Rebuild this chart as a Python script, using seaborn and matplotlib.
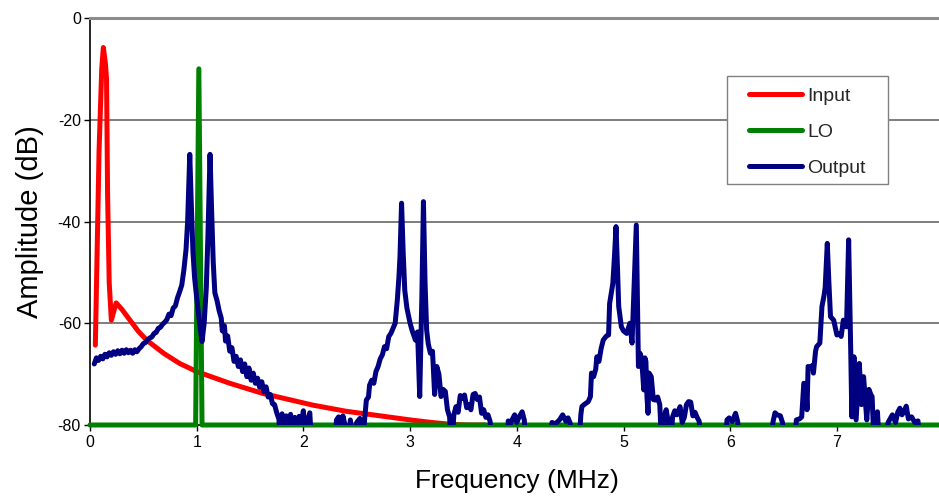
import matplotlib
matplotlib.use("Agg")
import matplotlib.pyplot as plt
from matplotlib.patches import Rectangle
import seaborn as sns
import pandas as pd

# Input tone spectrum (MHz, dB)
input_freq = [0.05, 0.085, 0.11, 0.125, 0.145, 0.155, 0.165, 0.18, 0.20, 0.245,
              0.30, 0.375, 0.45, 0.53, 0.69, 0.84, 1.00, 1.31, 1.62, 2.09,
              2.40, 2.72, 3.00, 3.20, 3.40, 3.55, 3.70]
input_amp = [-64.3, -26.0, -10.0, -5.8, -9.0, -12.0, -35.0, -52.0, -59.4, -56.0,
             -57.3, -59.4, -61.5, -63.3, -65.9, -67.9, -69.5, -71.8, -73.8, -76.1,
             -77.3, -78.2, -79.0, -79.5, -79.9, -80.0, -80.0]

# Local oscillator spectrum
lo_freq = [0.0, 0.99, 1.02, 1.05, 8.0]
lo_amp = [-80.0, -80.0, -10.0, -80.0, -80.0]

# Mixer output spectrum
output_freq = [
    0.04, 0.06, 0.08, 0.10, 0.12, 0.14, 0.16, 0.18, 0.20, 0.22, 0.24, 0.26, 0.28, 0.30,
    0.32, 0.34, 0.36, 0.38, 0.40, 0.42, 0.44, 0.46, 0.48, 0.50, 0.52, 0.54, 0.56, 0.58,
    0.60, 0.62, 0.64, 0.66, 0.68, 0.70, 0.72, 0.74, 0.76, 0.78, 0.80, 0.82, 0.84, 0.86,
    0.88, 0.90, 0.915, 0.935, 0.95, 0.965, 0.98, 1.00, 1.03, 1.05, 1.07, 1.09, 1.105,
    1.125, 1.14, 1.155, 1.17, 1.19, 1.21, 1.23, 1.24, 1.26, 1.27, 1.29, 1.31, 1.33, 1.35,
    1.37, 1.39, 1.41, 1.43, 1.45, 1.47, 1.49, 1.51, 1.53, 1.55, 1.57, 1.59, 1.61, 1.63,
    1.65, 1.67, 1.69, 1.71, 1.73, 1.75, 1.77, 1.79, 1.80, 1.82, 1.84, 1.86, 1.88, 1.90,
    1.92, 1.94, 1.96, 1.98, 2.00, 2.02, 2.04, 2.06, 2.08, 2.29, 2.31, 2.33, 2.35, 2.37,
    2.39, 2.42, 2.44, 2.47, 2.50, 2.53, 2.55, 2.57, 2.59, 2.61, 2.62, 2.64, 2.66, 2.68,
    2.70, 2.72, 2.74, 2.76, 2.78, 2.80, 2.82, 2.84, 2.86, 2.88, 2.895, 2.905, 2.92, 2.935,
    2.95, 2.97, 3.00, 3.02, 3.05, 3.07, 3.09, 3.11, 3.125, 3.14, 3.155, 3.17, 3.19, 3.21,
    3.23, 3.25, 3.27, 3.29, 3.31, 3.33, 3.35, 3.37, 3.39, 3.41, 3.43, 3.45, 3.47, 3.49,
    3.51, 3.53, 3.55, 3.57, 3.59, 3.61, 3.63, 3.65, 3.67, 3.69, 3.71, 3.73, 3.75, 3.77,
    3.91, 3.92, 3.94, 3.96, 3.98, 4.00, 4.02, 4.05, 4.07, 4.09, 4.30, 4.33, 4.36, 4.40,
    4.43, 4.46, 4.48, 4.50, 4.52, 4.58, 4.60, 4.61, 4.63, 4.65, 4.67, 4.69, 4.70, 4.72,
    4.74, 4.75, 4.77, 4.79, 4.81, 4.84, 4.86, 4.87, 4.90, 4.915, 4.93, 4.945, 4.955, 4.98,
    5.00, 5.03, 5.06, 5.08, 5.10, 5.12, 5.13, 5.14, 5.155, 5.17, 5.19, 5.20, 5.21, 5.22,
    5.23, 5.24, 5.26, 5.28, 5.30, 5.32, 5.34, 5.36, 5.38, 5.40, 5.42, 5.44, 5.46, 5.48,
    5.50, 5.53, 5.55, 5.57, 5.59, 5.61, 5.63, 5.65, 5.67, 5.69, 5.71, 5.73, 5.95, 5.97,
    5.99, 6.02, 6.05, 6.07, 6.09, 6.38, 6.40, 6.42, 6.44, 6.47, 6.49, 6.51, 6.60, 6.62,
    6.65, 6.67, 6.69, 6.71, 6.72, 6.73, 6.75, 6.77, 6.78, 6.80, 6.81, 6.84, 6.86, 6.88,
    6.89, 6.91, 6.925, 6.94, 6.97, 7.00, 7.02, 7.04, 7.06, 7.09, 7.11, 7.125, 7.13, 7.14,
    7.16, 7.18, 7.21, 7.23, 7.25, 7.28, 7.30, 7.32, 7.33, 7.35, 7.37, 7.38, 7.40, 7.46,
    7.48, 7.52, 7.55, 7.57, 7.59, 7.61, 7.63, 7.65, 7.67, 7.70, 7.73, 7.76, 7.78]
output_amp = [
    -68.0, -66.8, -67.3, -66.5, -67.0, -66.1, -66.6, -65.8, -66.3, -65.6, -66.1, -65.4, -66.0, -65.3,
    -65.9, -65.2, -65.8, -65.3, -65.9, -65.2, -65.6, -65.0, -64.6, -64.0, -63.8, -63.2, -62.9, -62.7,
    -62.0, -61.8, -61.0, -60.8, -60.2, -59.8, -59.3, -58.2, -58.5, -57.0, -56.6, -55.0, -53.8, -52.5,
    -49.5, -45.5, -40.0, -26.8, -37.0, -46.0, -51.0, -55.0, -60.5, -63.6, -60.0, -53.0, -43.0,
    -26.8, -38.0, -48.0, -54.0, -55.5, -57.5, -59.0, -61.5, -60.5, -63.5, -62.5, -65.5, -64.8, -67.5,
    -66.5, -68.5, -67.2, -69.5, -68.0, -70.5, -68.8, -71.2, -69.8, -71.8, -70.8, -72.6, -71.5, -73.5,
    -72.5, -74.5, -74.0, -75.8, -76.0, -77.6, -78.8, -85.0, -77.8, -85.0, -78.2, -85.0, -77.9, -85.0,
    -78.5, -85.0, -78.3, -79.5, -77.2, -85.0, -79.0, -77.6, -85.0, -85.0, -79.0, -78.4, -85.0, -78.2,
    -80.0, -85.0, -79.0, -85.0, -79.5, -78.7, -85.0, -79.8, -75.1, -74.5, -72.2, -71.2, -71.8, -69.5,
    -68.5, -67.0, -66.2, -64.6, -65.0, -62.6, -62.0, -61.0, -60.0, -55.5, -51.0, -47.0, -36.4, -46.0,
    -53.5, -57.0, -60.0, -61.5, -63.3, -61.7, -74.4, -55.0, -36.1, -52.0, -61.3, -64.0, -65.9, -65.5,
    -74.0, -68.5, -70.0, -74.4, -73.0, -73.4, -77.0, -78.4, -85.0, -78.0, -76.4, -77.5, -74.2, -74.8,
    -74.1, -76.6, -76.0, -77.0, -74.0, -73.8, -75.0, -74.5, -77.7, -77.0, -78.5, -78.0, -79.3, -85.0,
    -85.0, -79.2, -79.8, -78.8, -78.0, -79.5, -78.5, -77.4, -79.0, -85.0, -85.0, -79.5, -79.8, -79.0,
    -78.0, -79.3, -78.6, -79.6, -85.0, -85.0, -78.0, -76.4, -76.0, -75.7, -75.4, -74.4, -69.8, -70.5,
    -69.0, -66.6, -67.5, -65.0, -63.3, -62.5, -62.3, -56.1, -52.2, -47.0, -41.0, -50.0, -56.7, -60.7,
    -61.5, -62.0, -60.0, -63.9, -52.0, -40.7, -55.0, -68.5, -65.9, -67.0, -73.1, -66.8, -67.5, -74.5,
    -77.7, -69.8, -70.5, -75.0, -75.1, -74.5, -76.0, -85.0, -78.5, -77.0, -79.5, -85.0, -78.4, -77.2,
    -78.0, -76.4, -79.5, -78.5, -76.0, -75.4, -75.5, -78.2, -77.5, -78.5, -79.3, -85.0, -85.0, -79.0,
    -78.6, -79.3, -77.7, -79.3, -85.0, -85.0, -79.5, -77.6, -78.0, -78.2, -79.5, -85.0, -85.0, -79.0,
    -78.8, -78.4, -71.8, -72.5, -77.0, -68.5, -68.7, -68.3, -69.8, -65.5, -64.6, -63.9, -56.7, -54.5,
    -53.0, -44.3, -52.0, -58.7, -59.4, -62.3, -62.0, -62.6, -59.4, -60.7, -43.6, -60.0, -65.9, -78.4,
    -66.6, -79.0, -67.9, -76.0, -70.5, -79.0, -73.0, -74.1, -74.4, -85.0, -79.0, -77.4, -85.0, -85.0,
    -79.5, -78.0, -79.5, -77.5, -76.7, -78.0, -77.3, -76.3, -78.8, -78.4, -79.5, -79.2, -85.0]

series_names = ["Input", "LO", "Output"]
series_colors = ["#FF0000", "#008000", "#000080"]
x_ticks = [0, 1, 2, 3, 4, 5, 6, 7, 8]
y_ticks = [-80, -60, -40, -20, 0]

sns.set_theme(style="white")
plt.rcParams["font.family"] = ["Liberation Sans", "DejaVu Sans"]

W, H = 939, 496
fig = plt.figure(figsize=(W / 100, H / 100), dpi=100)
ax = fig.add_axes([90 / W, 1 - 425 / H, 853.6 / W, 407 / H])

frames = [
    pd.DataFrame({"freq": input_freq, "amp": input_amp, "series": "Input"}),
    pd.DataFrame({"freq": lo_freq, "amp": lo_amp, "series": "LO"}),
    pd.DataFrame({"freq": output_freq, "amp": output_amp, "series": "Output"}),
]

for name, color, df, z in zip(series_names, series_colors, frames, [3, 4, 5]):
    sns.lineplot(data=df, x="freq", y="amp", ax=ax, color=color, linewidth=3.6,
                 estimator=None, sort=False, label=name, zorder=z,
                 solid_joinstyle="round", solid_capstyle="round")

# the LO floor sits on the bottom border and is drawn over it in full
ax.lines[1].set_clip_on(False)

ax.set_xlim(0, 8)
ax.set_ylim(-80, 0)
ax.set_xticks(x_ticks)
ax.set_yticks(y_ticks)
ax.set_xticklabels([str(t) for t in x_ticks], fontsize=11.5)
ax.set_yticklabels([str(t) for t in y_ticks], fontsize=11.5)

for y in [-20, -40, -60]:
    ax.axhline(y, color="#5a5a5a", linewidth=1.1, zorder=1)

ax.tick_params(axis="both", direction="out", length=4.5, width=1, color="black",
               bottom=True, left=True, labelcolor="black")
ax.tick_params(axis="y", pad=2)
ax.tick_params(axis="x", pad=2.5)

for side in ["left", "bottom"]:
    ax.spines[side].set_color("black")
    ax.spines[side].set_linewidth(1.2)
ax.spines["top"].set_color("#8c8c8c")
ax.spines["top"].set_linewidth(2.2)
ax.spines["right"].set_visible(False)

ax.set_xlabel("Frequency (MHz)", fontsize=19, color="black", labelpad=14)
ax.set_ylabel("Amplitude (dB)", fontsize=21, color="black", labelpad=10)

# legend box
fig.add_artist(Rectangle((727 / W, 1 - 184 / H), (888 - 727) / W, (184 - 76) / H,
                         transform=fig.transFigure, facecolor="white",
                         edgecolor="#808080", linewidth=1.0, zorder=5))

handles, labels = ax.get_legend_handles_labels()
ax.get_legend().remove()
leg = fig.legend(handles, labels, loc="upper left",
                 bbox_to_anchor=(749 / W, 1 - 87 / H), bbox_transform=fig.transFigure,
                 borderaxespad=0, borderpad=0, fontsize=14, handlelength=2.73,
                 handletextpad=0.26, labelspacing=0.95, frameon=False)
leg.set_zorder(6)
for line in leg.get_lines():
    line.set_linewidth(3.6)

fig.savefig("out.png", dpi=100, facecolor="white")
